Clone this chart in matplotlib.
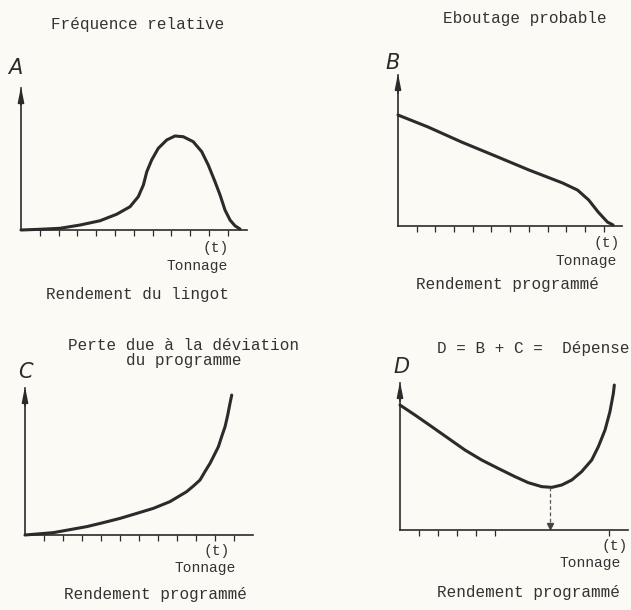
import matplotlib.pyplot as plt

# Courbes (x en pas de graduation, y en % de la hauteur de l'axe)
a_x = [0, 1.01, 2.07, 3.14, 4.2, 5.09, 5.8, 6.24, 6.51, 6.69, 6.95, 7.3, 7.75, 8.19,
       8.63, 9.16, 9.61, 9.96, 10.32, 10.59, 10.85, 11.12, 11.38, 11.65]
a_y = [0, 0.5, 1.2, 3.5, 6.5, 11.1, 16.4, 23.5, 31.7, 41.0, 49.3, 57.5, 63.4, 66.2,
       65.7, 62.2, 55.2, 45.8, 34.0, 24.6, 14.1, 7.0, 3.0, 0.7]

b_x = [0, 1.6, 3.4, 5.2, 7.0, 8.8, 9.6, 10.2, 10.7, 11.2, 11.5]
b_y = [73.5, 65.6, 55.6, 46.4, 37.1, 28.5, 23.8, 17.2, 9.3, 2.6, 0.7]

c_x = [0, 1.49, 3.25, 4.12, 5.0, 5.88, 6.75, 7.63, 8.07, 8.51, 8.86, 9.21, 9.47, 9.74,
       9.96, 10.18, 10.35, 10.53, 10.67, 10.79, 10.88]
c_y = [0, 1.6, 5.7, 8.4, 11.3, 14.7, 18.1, 22.7, 26.1, 29.5, 33.3, 37.4, 43.1, 48.8,
       54.4, 60.1, 66.9, 73.7, 81.6, 89.6, 95.2]

d_x = [0, 0.79, 1.67, 2.54, 3.42, 4.3, 5.17, 6.05, 6.75, 7.46, 7.99, 8.51, 9.04, 9.56,
       10.09, 10.44, 10.79, 11.05, 11.23, 11.28]
d_y = [85.0, 78.2, 70.3, 62.4, 54.4, 47.6, 41.9, 36.3, 32.2, 29.5, 29.0, 30.6, 34.0, 39.7,
       47.6, 56.7, 68.0, 80.5, 93.0, 98.6]
d_min_x = 7.9
d_min_y = 29.0

ticks_abc = [1, 2, 3, 4, 5, 6, 7, 8, 9, 10, 11]
ticks_d = [1, 2, 3, 4, 5, 11]

W, H = 631, 610
ink = '#2b2b2b'
bg = '#fbfaf4'
mono = 'Liberation Mono'

fig = plt.figure(figsize=(W / 100, H / 100), dpi=100, facecolor=bg)


def px(x, y):
    return x / W, 1 - y / H


def panneau(left, base, top, step, ticks, xs, ys):
    l, b = px(left, base)
    ax = fig.add_axes([l, b, 12 * step / W, (base - top) / H])
    ax.set_facecolor('none')
    ax.set_xlim(0, 12)
    ax.set_ylim(0, 100)
    for s in ['top', 'right']:
        ax.spines[s].set_visible(False)
    for s in ['left', 'bottom']:
        ax.spines[s].set_color(ink)
        ax.spines[s].set_linewidth(1.2)
    ax.set_yticks([])
    ax.set_xticks(ticks)
    ax.tick_params(axis='x', direction='out', length=4, width=0.9, color=ink, labelbottom=False)
    ax.annotate('', xy=(0, 101), xytext=(0, 88),
                arrowprops=dict(arrowstyle='-|>,head_length=0.9,head_width=0.18',
                                color=ink, lw=1.2, shrinkA=0, shrinkB=0),
                annotation_clip=False)
    ax.plot(xs, ys, color=ink, lw=2.2, solid_capstyle='round', solid_joinstyle='round', clip_on=False)
    return ax


def txt(x, y, s, size=11.5, ha='center', **kw):
    fx, fy = px(x, y)
    fig.text(fx, fy, s, ha=ha, va='center', fontsize=size, family=mono, color='#333333', **kw)


def lettre(x, y, s):
    fx, fy = px(x, y)
    fig.text(fx, fy, s, ha='center', va='center', fontsize=15,
             family=['Liberation Sans Narrow', 'DejaVu Sans'], style='italic', color=ink)


# A
panneau(21, 230, 88, 18.8, ticks_abc, a_x, a_y)
txt(138, 25, 'Fréquence relative')
lettre(15, 68, 'A')
txt(229, 248, '(t)', size=10.5, ha='right')
txt(197, 266, 'Tonnage', size=10.5)
txt(137, 295, 'Rendement du lingot')

# B
panneau(398, 226, 75, 18.7, ticks_abc, b_x, b_y)
txt(525, 19, 'Eboutage probable')
lettre(393, 63, 'B')
txt(620, 243, '(t)', size=10.5, ha='right')
txt(586, 261, 'Tonnage', size=10.5)
txt(507, 285, 'Rendement programmé')

# C
panneau(25, 535, 388, 19, ticks_abc, c_x, c_y)
txt(184, 353, 'Perte due à la déviation\ndu programme', linespacing=0.95, multialignment='center')
lettre(25, 372, 'C')
txt(230, 551, '(t)', size=10.5, ha='right')
txt(205, 568, 'Tonnage', size=10.5)
txt(155, 594, 'Rendement programmé')

# D
axd = panneau(400, 530, 383, 19, ticks_d, d_x, d_y)
axd.plot([d_min_x, d_min_x], [d_min_y, 4], color='#555555', lw=0.9, ls=(0, (3, 2)))
axd.plot([d_min_x], [3], marker='v', color='#444444', markersize=4.5, clip_on=False)
txt(533, 348, 'D = B + C =  Dépense')
lettre(402, 367, 'D')
txt(628, 546, '(t)', size=10.5, ha='right')
txt(590, 563, 'Tonnage', size=10.5)
txt(528, 593, 'Rendement programmé')

fig.savefig('out.png', dpi=100, facecolor=bg)
